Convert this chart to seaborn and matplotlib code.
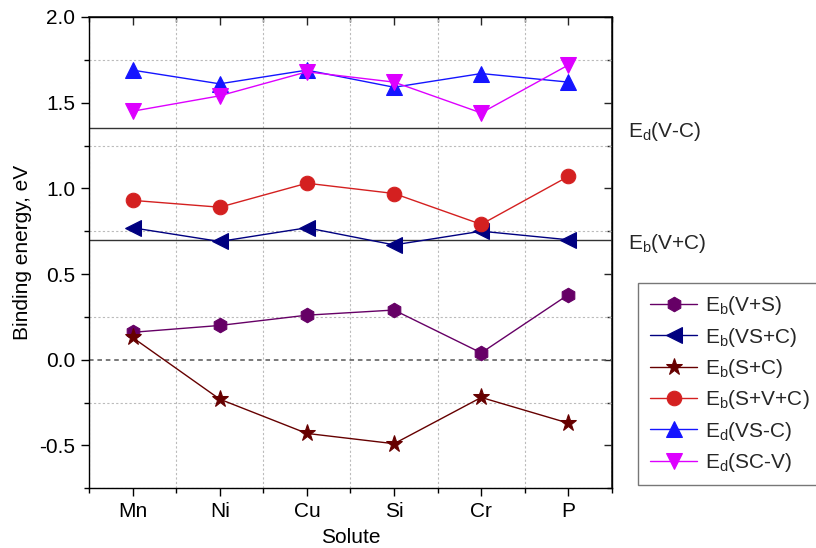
import matplotlib
matplotlib.use("Agg")
import numpy as np
import pandas as pd
import matplotlib.pyplot as plt
import seaborn as sns

sns.set_theme(style="white")
plt.rcParams.update({
    "font.family": ["Liberation Sans", "DejaVu Sans"],
    "mathtext.fontset": "custom",
    "mathtext.rm": "Liberation Sans",
    "mathtext.it": "Liberation Sans:italic",
    "font.size": 15,
})

solutes = ["Mn", "Ni", "Cu", "Si", "Cr", "P"]

eb_v_s   = [0.16, 0.20, 0.26, 0.29, 0.04, 0.38]
eb_vs_c  = [0.77, 0.69, 0.77, 0.67, 0.75, 0.70]
eb_s_c   = [0.13, -0.23, -0.43, -0.49, -0.22, -0.37]
eb_s_v_c = [0.93, 0.89, 1.03, 0.97, 0.79, 1.07]
ed_vs_c  = [1.69, 1.61, 1.69, 1.59, 1.67, 1.62]
ed_sc_v  = [1.45, 1.54, 1.68, 1.62, 1.44, 1.72]

ed_v_c = 1.35
eb_v_c = 0.70

series = [
    ("E$_\\mathrm{b}$(V+S)",   eb_v_s,   "#660066", "h", 10.5),
    ("E$_\\mathrm{b}$(VS+C)",  eb_vs_c,  "#000080", "<", 11),
    ("E$_\\mathrm{b}$(S+C)",   eb_s_c,   "#660000", "*", 12.5),
    ("E$_\\mathrm{b}$(S+V+C)", eb_s_v_c, "#D42020", "o", 10.5),
    ("E$_\\mathrm{d}$(VS-C)",  ed_vs_c,  "#1515FF", "^", 11),
    ("E$_\\mathrm{d}$(SC-V)",  ed_sc_v,  "#DD00FF", "v", 11),
]

fig = plt.figure(figsize=(8.16, 5.48), dpi=100)
ax = fig.add_axes([0.109, 0.109, 0.641, 0.860])

x = np.arange(len(solutes))
for label, vals, col, mk, ms in series:
    df = pd.DataFrame({"x": x, "y": vals})
    sns.lineplot(data=df, x="x", y="y", ax=ax, color=col, marker=mk,
                 markersize=ms, markeredgecolor=col, linewidth=1.0,
                 label=label, legend=False)

ax.axhline(ed_v_c, color="#333333", linewidth=1.0, zorder=1)
ax.axhline(eb_v_c, color="#333333", linewidth=1.0, zorder=1)
ax.axhline(0, color="#555555", linewidth=1.1, linestyle=(0, (3, 2.5)), zorder=1)

trans = ax.get_yaxis_transform()
ax.text(1.03, ed_v_c - 0.02, "E$_\\mathrm{d}$(V-C)", transform=trans,
        ha="left", va="center", fontsize=15, clip_on=False)
ax.text(1.03, eb_v_c - 0.02, "E$_\\mathrm{b}$(V+C)", transform=trans,
        ha="left", va="center", fontsize=15, clip_on=False)

ax.set_xlim(-0.5, 5.5)
ax.set_ylim(-0.75, 2.0)
ax.set_xticks(x)
ax.set_xticklabels(solutes)
ax.set_xticks(np.arange(-0.5, 6.0, 1.0), minor=True)
ax.set_yticks([-0.5, 0.0, 0.5, 1.0, 1.5, 2.0])
ax.set_yticklabels(["-0.5", "0.0", "0.5", "1.0", "1.5", "2.0"])
ax.set_yticks(np.arange(-0.75, 2.01, 0.25), minor=True)

ax.grid(False)
ax.grid(which="minor", color="#BBBBBB", linestyle=(0, (2, 2)), linewidth=0.8)
ax.set_axisbelow(True)

for s in ax.spines.values():
    s.set_visible(True)
    s.set_color("black")
    s.set_linewidth(1.0)

ax.tick_params(which="major", direction="out", length=6, width=1, color="black",
               labelsize=15, labelcolor="black", bottom=True, left=True, pad=4)
ax.tick_params(which="minor", direction="out", length=3.5, width=1, color="black",
               bottom=True, left=True)

top = ax.secondary_xaxis("top")
top.set_xticks(x)
top.set_xticks(np.arange(-0.5, 6.0, 1.0), minor=True)
top.tick_params(which="major", direction="in", length=6, width=1, labeltop=False)
top.tick_params(which="minor", direction="in", length=3.5, width=1)
top.set_xticklabels([])
right = ax.secondary_yaxis("right")
right.set_yticks([-0.5, 0.0, 0.5, 1.0, 1.5, 2.0])
right.set_yticks(np.arange(-0.75, 2.01, 0.25), minor=True)
right.tick_params(which="major", direction="in", length=6, width=1)
right.tick_params(which="minor", direction="in", length=3.5, width=1)
right.set_yticklabels([])

ax.set_xlabel("Solute", fontsize=15, color="black", labelpad=5)
ax.set_ylabel("Binding energy, eV", fontsize=15, color="black", labelpad=5)

handles, labels = ax.get_legend_handles_labels()
leg = fig.legend(handles, labels, loc="upper left", bbox_to_anchor=(0.782, 0.484),
                 fontsize=15, frameon=True, fancybox=False, edgecolor="#555555",
                 handlelength=2.3, labelspacing=0.4, borderpad=0.55,
                 handletextpad=0.35, borderaxespad=0.0)
leg.get_frame().set_linewidth(1.0)

fig.savefig("out.png", dpi=100, facecolor="white")
